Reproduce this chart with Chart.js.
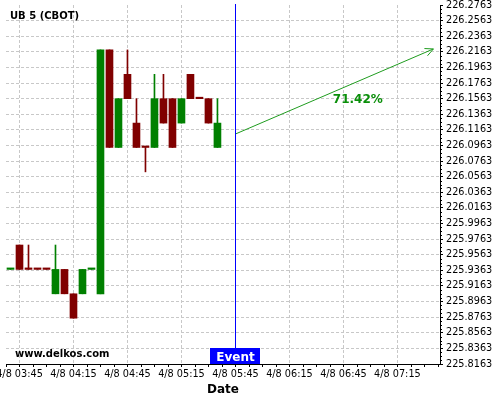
<!DOCTYPE html>
<html>
<head>
<meta charset="utf-8">
<title>UB 5 (CBOT)</title>
<script src="https://cdn.jsdelivr.net/npm/chart.js@4.4.1/dist/chart.umd.min.js"></script>
<style>
  html, body { margin: 0; padding: 0; background: #fff; }
  #wrap { width: 500px; height: 400px; }
</style>
</head>
<body>
<div id="wrap"><canvas id="myChart" width="500" height="400"></canvas></div>
<script>
// 5 minute candles, 4/8
const times = ["03:40", "03:45", "03:50", "03:55", "04:00", "04:05", "04:10", "04:15",
    "04:20", "04:25", "04:30", "04:35", "04:40", "04:45", "04:50", "04:55",
    "05:00", "05:05", "05:10", "05:15", "05:20", "05:25", "05:30", "05:35"];
const opens = [225.9375, 225.96875, 225.9375, 225.9375, 225.9375, 225.90625, 225.9375, 225.90625,
    225.90625, 225.9375, 225.90625, 226.21875, 226.09375, 226.1875, 226.125, 226.09375,
    226.09375, 226.15625, 226.15625, 226.125, 226.1875, 226.15625, 226.15625, 226.09375];
const closes = [225.9375, 225.9375, 225.9375, 225.9375, 225.9375, 225.9375, 225.90625, 225.875,
    225.9375, 225.9375, 226.21875, 226.09375, 226.15625, 226.15625, 226.09375, 226.09375,
    226.15625, 226.125, 226.09375, 226.15625, 226.15625, 226.15625, 226.125, 226.125];
const highs = [225.9375, 225.96875, 225.96875, 225.9375, 225.9375, 225.96875, 225.9375, 225.90625,
    225.9375, 225.9375, 226.21875, 226.21875, 226.15625, 226.21875, 226.15625, 226.09375,
    226.1875, 226.1875, 226.15625, 226.15625, 226.1875, 226.15625, 226.15625, 226.15625];
const lows = [225.9375, 225.9375, 225.9375, 225.9375, 225.9375, 225.90625, 225.90625, 225.875,
    225.90625, 225.9375, 225.90625, 226.09375, 226.09375, 226.15625, 226.09375, 226.0625,
    226.09375, 226.125, 226.09375, 226.125, 226.15625, 226.15625, 226.125, 226.09375];
// candle direction (dojis included)
const upCandle = [true, false, false, false, false, true, false, false,
    true, true, true, false, true, false, false, false,
    true, false, false, true, false, false, false, true];

// axes
const yTickLabels = ["225.8163", "225.8363", "225.8563", "225.8763", "225.8963", "225.9163",
    "225.9363", "225.9563", "225.9763", "225.9963", "226.0163", "226.0363",
    "226.0563", "226.0763", "226.0963", "226.1163", "226.1363", "226.1563",
    "226.1763", "226.1963", "226.2163", "226.2363", "226.2563", "226.2763"];
const xTickLabels = ["4/8 03:45", "4/8 04:15", "4/8 04:45", "4/8 05:15",
    "4/8 05:45", "4/8 06:15", "4/8 06:45", "4/8 07:15"];
const xRange = ["03:37:30", "07:38:40"];

// event + forecast arrow
const eventTime = "05:45";
const arrowTimes = ["05:45", "07:35"];
const arrowPrices = [226.111, 226.22];
const forecastText = "71.42%";
const forecastAt = { time: "06:53", price: 226.156 };

const GREEN = "#008000";
const RED = "#800000";
const ARROW = "#1f9c1f";
const GRID = "#c8c8c8";
const FONT = "'DejaVu Sans', sans-serif";

// "HH:MM[:SS]" -> minutes
const toMin = (s) => {
    const p = s.split(":").map(Number);
    return p[0] * 60 + p[1] + (p[2] || 0) / 60;
};

const yTicks = yTickLabels.map(Number);
const xTicks = xTickLabels.map((l) => toMin(l.split(" ")[1]));
const yMin = yTicks[0];
const yMax = yTicks[yTicks.length - 1];

const bodies = times.map((t, i) => ({ x: toMin(t), y: [opens[i], closes[i]] }));
const wicks = times.map((t, i) => ({ x: toMin(t), y: [lows[i], highs[i]] }));
const candleColors = upCandle.map((up) => (up ? GREEN : RED));

// extras drawn on top: minor ticks, event line, arrow head, texts
const extras = {
    id: "extras",
    afterDatasetsDraw(chart) {
        const { ctx, chartArea, scales } = chart;
        // event line, pixel aligned
        const ex = Math.floor(scales.x.getPixelForValue(toMin(eventTime))) + 0.5;
        ctx.save();
        ctx.strokeStyle = "#0000ff";
        ctx.lineWidth = 1;
        ctx.beginPath();
        ctx.moveTo(ex, chartArea.top - 1);
        ctx.lineTo(ex, chartArea.bottom);
        ctx.stroke();
        ctx.restore();
    },
    afterDraw(chart) {
        const { ctx, chartArea, scales } = chart;
        const x = scales.x;
        const y = scales.y;
        ctx.save();

        // minor ticks
        ctx.strokeStyle = "#000";
        ctx.lineWidth = 1;
        const xStep = (xTicks[1] - xTicks[0]) / 4;
        for (let v = xTicks[0]; v >= x.min - 1e-6; v -= xStep) drawXTick(v);
        for (let v = xTicks[0] + xStep; v <= x.max + 1e-6; v += xStep) drawXTick(v);
        function drawXTick(v) {
            const px = Math.round(x.getPixelForValue(v)) + 0.5;
            ctx.beginPath();
            ctx.moveTo(px, chartArea.bottom);
            ctx.lineTo(px, chartArea.bottom + 3);
            ctx.stroke();
        }
        const yStep = (yTicks[1] - yTicks[0]) / 4;
        for (let i = 0; i < yTicks.length - 1; i++) {
            for (let k = 1; k < 4; k++) {
                const py = Math.round(y.getPixelForValue(yTicks[i] + k * yStep)) + 0.5;
                ctx.beginPath();
                ctx.moveTo(chartArea.right, py);
                ctx.lineTo(chartArea.right + 2, py);
                ctx.stroke();
            }
        }

        // arrow head
        const pts = chart.getDatasetMeta(2).data;
        const p0 = pts[0], p1 = pts[1];
        const ang = Math.atan2(p1.y - p0.y, p1.x - p0.x);
        ctx.strokeStyle = ARROW;
        ctx.beginPath();
        ctx.moveTo(p1.x - 9 * Math.cos(ang - 0.45), p1.y - 9 * Math.sin(ang - 0.45));
        ctx.lineTo(p1.x, p1.y);
        ctx.lineTo(p1.x - 9 * Math.cos(ang + 0.45), p1.y - 9 * Math.sin(ang + 0.45));
        ctx.stroke();

        // forecast percentage
        ctx.fillStyle = "#0a8f0a";
        ctx.font = "bold 12px " + FONT;
        ctx.textAlign = "center";
        ctx.textBaseline = "alphabetic";
        ctx.fillText(forecastText, x.getPixelForValue(toMin(forecastAt.time)),
            y.getPixelForValue(forecastAt.price) + 4.5);

        // event box
        const ex = x.getPixelForValue(toMin(eventTime));
        ctx.fillStyle = "#0000ff";
        ctx.fillRect(Math.round(ex) - 25, chartArea.bottom - 16, 50, 16);
        ctx.fillStyle = "#fff";
        ctx.font = "bold 12px " + FONT;
        ctx.fillText("Event", ex, chartArea.bottom - 3);

        // titles
        ctx.fillStyle = "#000";
        ctx.textAlign = "left";
        ctx.font = "bold 10px " + FONT;
        ctx.fillText("UB 5 (CBOT)", 10, 19);
        ctx.fillText("www.delkos.com", 15, 357);
        ctx.restore();
    },
};

const chart = new Chart(document.querySelector("#myChart"), {
    type: "bar",
    data: {
        datasets: [
            {
                label: "body",
                data: bodies,
                backgroundColor: candleColors,
                barThickness: 7,
                minBarLength: 1.5,
                grouped: false,
                borderWidth: 0,
            },
            {
                label: "wick",
                data: wicks,
                backgroundColor: candleColors,
                barThickness: 1,
                grouped: false,
                borderWidth: 0,
            },
            {
                type: "line",
                label: "forecast",
                data: arrowTimes.map((t, i) => ({ x: toMin(t), y: arrowPrices[i] })),
                borderColor: ARROW,
                borderWidth: 1,
                pointRadius: 0,
                tension: 0,
            },
        ],
    },
    options: {
        responsive: false,
        animation: false,
        devicePixelRatio: 1,
        layout: { padding: { left: 6, top: 5, right: 0, bottom: 0 } },
        plugins: { legend: { display: false }, tooltip: { enabled: false } },
        scales: {
            x: {
                type: "linear",
                min: toMin(xRange[0]),
                max: toMin(xRange[1]),
                offset: false,
                afterBuildTicks: (scale) => {
                    scale.ticks = xTicks.map((v) => ({ value: v }));
                },
                afterFit: (scale) => {
                    scale.height = 36;
                    scale.paddingLeft = 0;
                    scale.paddingRight = 0;
                },
                ticks: {
                    autoSkip: false,
                    maxRotation: 0,
                    padding: 2,
                    color: "#000",
                    font: { family: FONT, size: 9.7 },
                    callback: (v, i) => xTickLabels[i],
                },
                grid: { color: GRID, offset: false, tickLength: 3, tickColor: "#000" },
                border: { color: "#000", dash: [3, 2] },
                title: {
                    display: true,
                    text: "Date",
                    color: "#000",
                    font: { family: FONT, size: 12, weight: "bold" },
                    padding: { top: 0, bottom: 3 },
                },
            },
            y: {
                position: "right",
                min: yMin,
                max: yMax,
                beginAtZero: false,
                afterBuildTicks: (scale) => {
                    scale.ticks = yTicks.map((v) => ({ value: v }));
                },
                afterFit: (scale) => {
                    scale.width = 60;
                    scale.paddingTop = 0;
                    scale.paddingBottom = 0;
                },
                ticks: {
                    autoSkip: false,
                    padding: 3,
                    color: "#000",
                    font: { family: FONT, size: 9.7 },
                    callback: (v, i) => yTickLabels[i],
                },
                grid: {
                    color: (c) => (c.tick && c.tick.value >= yMax - 1e-9 ? "transparent" : GRID),
                    tickLength: 3,
                    tickColor: "#000",
                },
                border: { color: "#000", dash: [3, 2] },
            },
        },
    },
    plugins: [extras],
});
</script>
</body>
</html>
